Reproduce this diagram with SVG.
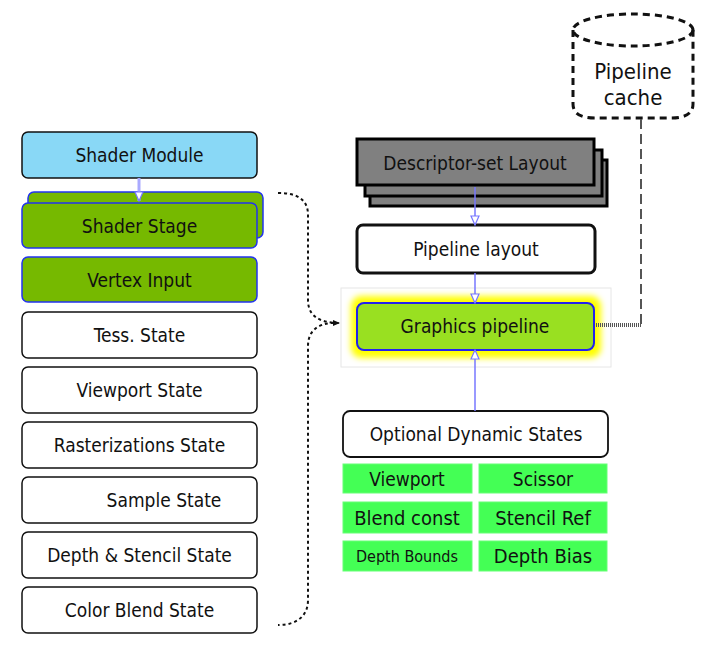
<svg xmlns="http://www.w3.org/2000/svg" width="707" height="651" viewBox="0 0 707 651">
<style>
text{font-family:"DejaVu Sans Condensed","DejaVu Sans",sans-serif;font-size:19px;fill:#111;text-anchor:middle;dominant-baseline:central}
.st{fill:#fff;stroke:#111;stroke-width:1.5}
.gr{fill:#76b900;stroke:#2233ee;stroke-width:1.5}
.tile{fill:#44ff55;stroke:#66ff77;stroke-width:1}
.desc{fill:#808080;stroke:#000;stroke-width:3}
.blue{stroke:#7777ff;stroke-width:1.5;fill:none}
</style>
<defs>
<marker id="tri" markerUnits="userSpaceOnUse" markerWidth="12" markerHeight="10" refX="10" refY="5" orient="auto">
<path d="M1,1 L10,5 L1,9 Z" fill="#fff" stroke="#7777ff" stroke-width="1.2"/>
</marker>
<marker id="dot" markerUnits="userSpaceOnUse" markerWidth="8" markerHeight="6" refX="7" refY="3" orient="auto">
<path d="M0,0 L7,3 L0,6 Z" fill="#111"/>
</marker>
<filter id="glow" x="-20%" y="-50%" width="140%" height="200%">
<feGaussianBlur stdDeviation="3"/>
</filter>
</defs>

<g id="shader-module"><rect x="22" y="132" width="235" height="46" rx="6" fill="#89d8f6" stroke="#111" stroke-width="1.5"/><text x="139.5" y="155">Shader Module</text></g>
<g id="shader-stage"><rect x="28" y="192" width="235" height="46" rx="6" class="gr"/><rect x="22" y="203" width="235" height="45" rx="6" class="gr"/><text x="139.5" y="226">Shader Stage</text></g>
<g id="vertex-input"><rect x="22" y="257" width="235" height="45" rx="6" class="gr"/><text x="139.5" y="280">Vertex Input</text></g>
<g id="tess-state"><rect x="22" y="312" width="235" height="46" rx="6" class="st"/><text x="139.5" y="335">Tess. State</text></g>
<g id="viewport-state"><rect x="22" y="367" width="235" height="46" rx="6" class="st"/><text x="139.5" y="390">Viewport State</text></g>
<g id="raster-state"><rect x="22" y="422" width="235" height="46" rx="6" class="st"/><text x="139.5" y="445">Rasterizations State</text></g>
<g id="sample-state"><rect x="22" y="477" width="235" height="46" rx="6" class="st"/><text x="164" y="500">Sample State</text></g>
<g id="depth-stencil-state"><rect x="22" y="532" width="235" height="46" rx="6" class="st"/><text x="139.5" y="555">Depth &amp; Stencil State</text></g>
<g id="color-blend-state"><rect x="22" y="587" width="235" height="46" rx="6" class="st"/><text x="139.5" y="610">Color Blend State</text></g>

<g id="pipeline-cache">
<path d="M573,30 V104 Q573,118 595,118 H671 Q693,118 693,104 V30" fill="none" stroke="#111" stroke-width="3" stroke-dasharray="7,5"/>
<ellipse cx="633" cy="30" rx="60" ry="16" fill="none" stroke="#111" stroke-width="3" stroke-dasharray="7,5"/>
<text x="633" y="71" style="font-size:22px">Pipeline</text>
<text x="633" y="97" style="font-size:22px">cache</text>
</g>

<g id="descriptor-set-layout">
<rect x="370" y="160" width="237" height="46" class="desc"/>
<rect x="365" y="150" width="237" height="46" class="desc"/>
<rect x="357" y="139" width="237" height="46" class="desc"/>
<text x="475" y="163">Descriptor-set Layout</text>
</g>

<g id="pipeline-layout"><rect x="357" y="225" width="238" height="48" rx="6" fill="#fff" stroke="#111" stroke-width="3"/><text x="476" y="249">Pipeline layout</text></g>

<g id="graphics-pipeline">
<rect x="341" y="288" width="270" height="79" fill="none" stroke="#e6e6e6" stroke-width="1"/>
<rect x="351" y="296" width="250" height="62" rx="10" fill="#ffff00" filter="url(#glow)"/>
<rect x="357" y="303" width="237" height="47" rx="7" fill="#99e021" stroke="#2222ee" stroke-width="2"/>
<text x="475" y="326">Graphics pipeline</text>
</g>

<g id="optional-dynamic-states"><rect x="343" y="411" width="265" height="46" rx="7" fill="#fff" stroke="#111" stroke-width="1.8"/><text x="476" y="434">Optional Dynamic States</text></g>
<g id="dyn-viewport"><rect x="343" y="464" width="129" height="29" class="tile"/><text x="407" y="478.5">Viewport</text></g>
<g id="dyn-scissor"><rect x="479" y="464" width="128" height="29" class="tile"/><text x="543" y="478.5">Scissor</text></g>
<g id="dyn-blend"><rect x="343" y="502" width="129" height="31" class="tile"/><text x="407" y="517.5" style="font-size:20px">Blend const</text></g>
<g id="dyn-stencil"><rect x="479" y="502" width="128" height="31" class="tile"/><text x="543" y="517.5" style="font-size:20px">Stencil Ref</text></g>
<g id="dyn-depth-bounds"><rect x="343" y="541" width="129" height="30" class="tile"/><text x="407" y="556" style="font-size:16px">Depth Bounds</text></g>
<g id="dyn-depth-bias"><rect x="479" y="541" width="128" height="30" class="tile"/><text x="543" y="556" style="font-size:20px">Depth Bias</text></g>

<g id="connectors">
<line x1="139" y1="178" x2="139" y2="201" stroke="#aaaaff" stroke-width="3" marker-end="url(#tri)"/>
<line x1="475" y1="187" x2="475" y2="225" class="blue" marker-end="url(#tri)"/>
<line x1="475" y1="273" x2="475" y2="303" class="blue" marker-end="url(#tri)"/>
<line x1="475" y1="411" x2="475" y2="350" class="blue" marker-end="url(#tri)"/>
<path d="M641,119 V325" fill="none" stroke="#555" stroke-width="2" stroke-dasharray="10,5"/>
<path d="M641,325 H595" fill="none" stroke="#555" stroke-width="4" stroke-dasharray="1,1"/>
<path d="M278,193 C298,193 308,200 308,215 V300 C308,315 318,323 340,323" fill="none" stroke="#111" stroke-width="2" stroke-dasharray="3,3" marker-end="url(#dot)"/>
<path d="M334,323 C318,323 308,331 308,346 V600 C308,615 298,625 278,625" fill="none" stroke="#111" stroke-width="2" stroke-dasharray="3,3"/>
</g>
</svg>
